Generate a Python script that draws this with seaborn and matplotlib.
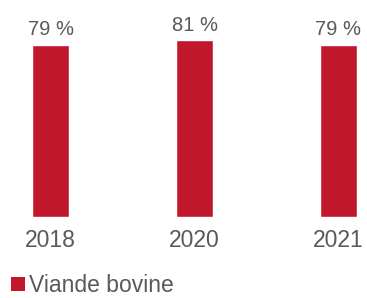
import matplotlib
matplotlib.use("Agg")
import matplotlib.pyplot as plt
import seaborn as sns
import pandas as pd
from matplotlib.patches import Patch

years = ["2018", "2020", "2021"]
values = [79, 81, 79]
series_name = "Viande bovine"
bar_color = "#C1172C"
text_color = "#595959"

sns.set_style("white")
plt.rcParams["font.family"] = ["Liberation Sans", "DejaVu Sans"]

df = pd.DataFrame({"year": years, "value": values})

fig = plt.figure(figsize=(3.67, 2.98), dpi=100)
ax = fig.add_axes([0, 0.272, 1, 0.728])
sns.barplot(data=df, x="year", y="value", color=bar_color, width=0.257,
            saturation=1, ax=ax)

ax.set_xlim(-0.351, 2.198)
ax.set_ylim(0, 99.5)
for s in ax.spines.values():
    s.set_visible(False)
ax.set_yticks([])
ax.set_xlabel("")
ax.set_ylabel("")
ax.tick_params(axis="x", length=0, pad=9, labelsize=16.5, labelcolor=text_color)

for i, v in enumerate(values):
    ax.annotate(f"{v} %", xy=(i, v), xytext=(0, 7), textcoords="offset points",
                ha="center", va="baseline", fontsize=14.5, color=text_color)

handle = Patch(facecolor=bar_color, edgecolor="none")
fig.legend([handle], [series_name], loc="lower left", bbox_to_anchor=(0.01, -0.02),
           frameon=False, borderpad=0, borderaxespad=0.3, handlelength=0.62,
           handleheight=0.62, handletextpad=0.2, fontsize=16.5,
           labelcolor=text_color)

fig.savefig("out.png", dpi=100)
